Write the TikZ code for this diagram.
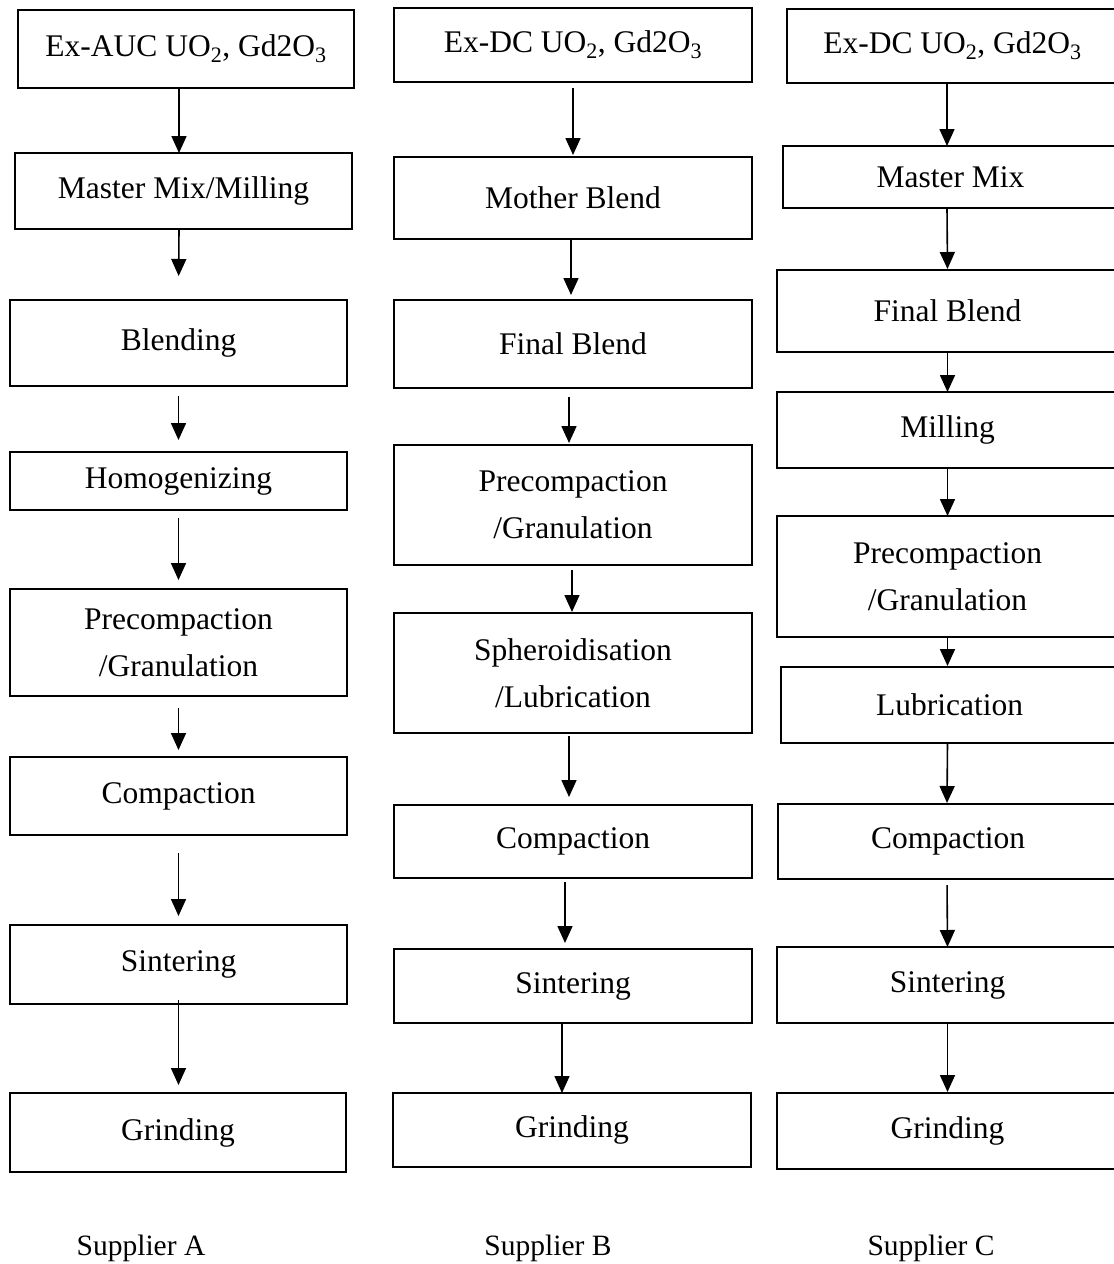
\documentclass[tikz,border=0pt]{standalone}
\usepackage{fontspec}
\setmainfont{Liberation Serif}
\usetikzlibrary{arrows.meta}

\begin{document}
\begin{tikzpicture}[x=1pt, y=-1pt,
    stepbox/.style={draw, line width=1.8pt, inner sep=0pt, outer sep=0pt, align=center,
      font=\fontsize{31.5}{47}\selectfont},
    flow/.style={line width=1.6pt, -{Triangle[length=17pt,width=15pt]}},
    supplier/.style={font=\fontsize{29.5}{35}\selectfont}]
    \useasboundingbox (0,0) rectangle (1114,1264);
    % Supplier A
    \node[stepbox, minimum width=336pt, minimum height=78pt] (a1) at (186,49) {Ex-AUC UO\textsubscript{2}, Gd2O\textsubscript{3}};
    \node[stepbox, minimum width=337pt, minimum height=76pt] (a2) at (183.5,191) {Master Mix/Milling};
    \node[stepbox, minimum width=337pt, minimum height=86pt] (a3) at (178.5,343) {Blending};
    \node[stepbox, minimum width=337pt, minimum height=58pt] (a4) at (178.5,481) {Homogenizing};
    \node[stepbox, minimum width=337pt, minimum height=107pt] (a5) at (178.5,642.5) {Precompaction\\/Granulation};
    \node[stepbox, minimum width=337pt, minimum height=78pt] (a6) at (178.5,796) {Compaction};
    \node[stepbox, minimum width=337pt, minimum height=79pt] (a7) at (178.5,964.5) {Sintering};
    \node[stepbox, minimum width=336pt, minimum height=79pt] (a8) at (178,1132.5) {Grinding};
    \draw[flow] ([xshift=-7pt]a1.south) -- ([xshift=-4.5pt]a2.north);
    \draw[flow, shorten >=24pt] ([xshift=-4.5pt]a2.south) -- (a3.north);
    \draw[flow, shorten <=10pt, shorten >=12pt] (a3.south) -- (a4.north);
    \draw[flow, shorten <=8pt, shorten >=9pt] (a4.south) -- (a5.north);
    \draw[flow, shorten <=12pt, shorten >=7pt] (a5.south) -- (a6.north);
    \draw[flow, shorten <=18pt, shorten >=9pt] (a6.south) -- (a7.north);
    \draw[flow, shorten <=-4pt, shorten >=8pt] (a7.south) -- ([xshift=0.5pt]a8.north);
    % Supplier B
    \node[stepbox, minimum width=358pt, minimum height=74pt] (b1) at (573,45) {Ex-DC UO\textsubscript{2}, Gd2O\textsubscript{3}};
    \node[stepbox, minimum width=358pt, minimum height=82pt] (b2) at (573,198) {Mother Blend};
    \node[stepbox, minimum width=358pt, minimum height=88pt] (b3) at (573,344) {Final Blend};
    \node[stepbox, minimum width=358pt, minimum height=120pt] (b4) at (573,505) {Precompaction\\/Granulation};
    \node[stepbox, minimum width=358pt, minimum height=120pt] (b5) at (573,673) {Spheroidisation\\/Lubrication};
    \node[stepbox, minimum width=358pt, minimum height=73pt] (b6) at (573,841.5) {Compaction};
    \node[stepbox, minimum width=358pt, minimum height=74pt] (b7) at (573,986) {Sintering};
    \node[stepbox, minimum width=358pt, minimum height=74pt] (b8) at (572,1130) {Grinding};
    \draw[flow, shorten <=6pt, shorten >=2pt] (b1.south) -- (b2.north);
    \draw[flow, shorten >=5pt] ([xshift=-2pt]b2.south) -- ([xshift=-2pt]b3.north);
    \draw[flow, shorten <=9pt, shorten >=2pt] ([xshift=-4pt]b3.south) -- ([xshift=-4pt]b4.north);
    \draw[flow, shorten <=5pt, shorten >=1pt] ([xshift=-1pt]b4.south) -- ([xshift=-1pt]b5.north);
    \draw[flow, shorten <=3pt, shorten >=8pt] ([xshift=-4pt]b5.south) -- ([xshift=-4pt]b6.north);
    \draw[flow, shorten <=4pt, shorten >=6pt] ([xshift=-8pt]b6.south) -- ([xshift=-8pt]b7.north);
    \draw[flow] ([xshift=-11pt]b7.south) -- ([xshift=-10pt]b8.north);
    % Supplier C
    \node[stepbox, minimum width=331pt, minimum height=74pt] (c1) at (952.5,46) {Ex-DC UO\textsubscript{2}, Gd2O\textsubscript{3}};
    \node[stepbox, minimum width=335pt, minimum height=62pt] (c2) at (950.5,177) {Master Mix};
    \node[stepbox, minimum width=341pt, minimum height=82pt] (c3) at (947.5,311) {Final Blend};
    \node[stepbox, minimum width=341pt, minimum height=76pt] (c4) at (947.5,430) {Milling};
    \node[stepbox, minimum width=341pt, minimum height=121pt] (c5) at (947.5,576.5) {Precompaction\\/Granulation};
    \node[stepbox, minimum width=337pt, minimum height=76pt] (c6) at (949.5,705) {Lubrication};
    \node[stepbox, minimum width=340pt, minimum height=75pt] (c7) at (948,841.5) {Compaction};
    \node[stepbox, minimum width=341pt, minimum height=76pt] (c8) at (947.5,985) {Sintering};
    \node[stepbox, minimum width=341pt, minimum height=76pt] (c9) at (947.5,1131) {Grinding};
    \draw[flow] ([xshift=-5.5pt]c1.south) -- ([xshift=-3.5pt]c2.north);
    \draw[flow, shorten >=1pt] ([xshift=-3.5pt]c2.south) -- (c3.north);
    \draw[flow] (c3.south) -- (c4.north);
    \draw[flow] (c4.south) -- (c5.north);
    \draw[flow, shorten >=1pt] (c5.south) -- ([xshift=-2pt]c6.north);
    \draw[flow, shorten >=1pt] ([xshift=-2pt]c6.south) -- ([xshift=-1pt]c7.north);
    \draw[flow, shorten <=6pt] ([xshift=-1pt]c7.south) -- (c8.north);
    \draw[flow, shorten >=1pt] (c8.south) -- (c9.north);
    % suppliers
    \node[supplier] (supa) at (141,1248) {Supplier A};
    \node[supplier] (supb) at (548,1248) {Supplier B};
    \node[supplier] (supc) at (931,1248) {Supplier C};
\end{tikzpicture}
\end{document}
